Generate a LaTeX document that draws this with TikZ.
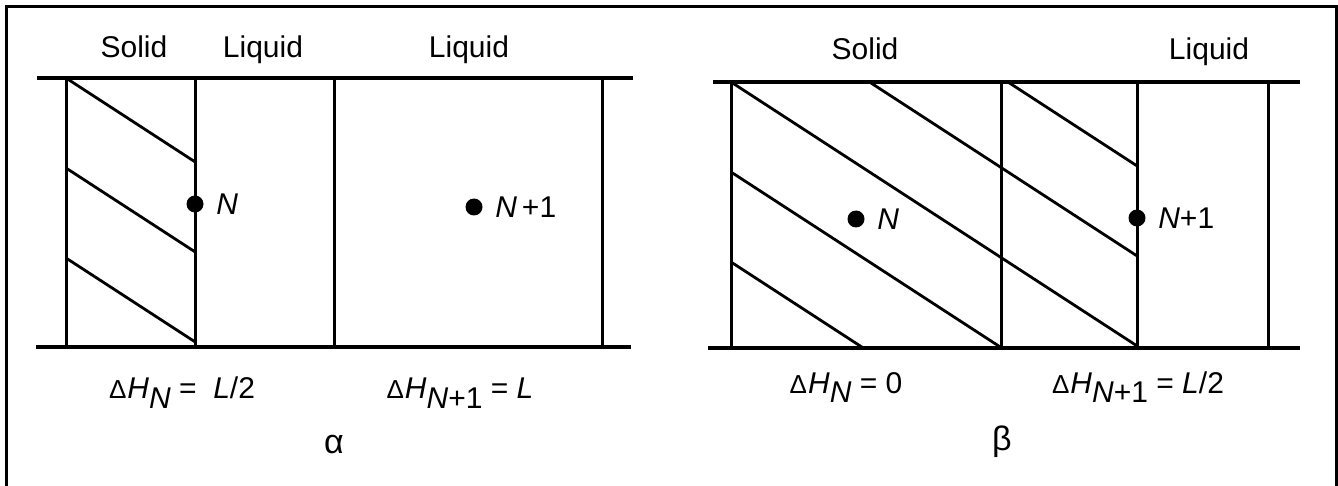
\documentclass[tikz,border=0pt]{standalone}
\usepackage{fontspec}
\setmainfont{Liberation Sans}
\usepackage{tikz}
\usetikzlibrary{positioning}
\newcommand{\dH}[1]{{\fontsize{13}{15}\selectfont Δ}\kern0.5pt\textit{H}\raisebox{-5pt}{#1}}

\begin{document}
\begin{tikzpicture}[x=0.5pt,y=-0.5pt,
  every node/.style={font=\fontsize{15}{18}\selectfont,inner sep=0pt},
  rail/.style={line width=1.9pt},
  wall/.style={line width=1.5pt},
  hatch/.style={line width=1.4pt},
  dot/.style={circle,fill=black,minimum size=8.5pt},
  greek/.style={anchor=base,font=\fontsize{17}{20}\selectfont}]
\useasboundingbox (0,0) rectangle (1338,486);
\draw[line width=1.5pt] (6,490) -- (6,7) -- (1336,7) -- (1336,490);

% alpha
\draw[rail] (37,78) -- (633,78) (36,347) -- (631,347);
\foreach \x in {66,195,334,602} \draw[wall] (\x,78) -- (\x,347);
\begin{scope}
  \clip (66,78) rectangle (195,347);
  \foreach \c in {78,168,258} \draw[hatch] (66,\c) -- ++(300,195);
\end{scope}
\node[anchor=base] (aS) at (134,58) {Solid};
\node[anchor=base] (aL) at (263,58) {Liquid};
\node[anchor=base] (aR) at (469,58) {Liquid};
\node[dot] (aN) at (195,204) {};
\node[right=6pt of aN] (aNl) {\textit{N}};
\node[dot] (aM) at (474,207) {};
\node[right=6pt of aM] (aMl) {\textit{N}\,+1};
\node[anchor=base] (aHN) at (182,398) {\dH{\textit{N}} = \ \textit{L}/2};
\node[anchor=base] (aHM) at (460,398) {\dH{\textit{N}+1} = \textit{L}};
\node[greek] (aT) at (334,453) {α};

% beta
\draw[rail] (713,82) -- (1300,82) (708,348) -- (1300,348);
\foreach \x in {731,1001,1137,1268} \draw[wall] (\x,82) -- (\x,348);
\begin{scope}
  \clip (731,82) rectangle (1137,348);
  \foreach \c in {-98,-8,82,172,262} \draw[hatch] (731,\c) -- ++(600,390);
\end{scope}
\node[anchor=base] (bS) at (865,60) {Solid};
\node[anchor=base] (bL) at (1209,60) {Liquid};
\node[dot] (bN) at (856,219) {};
\node[right=6pt of bN] (bNl) {\textit{N}};
\node[dot] (bM) at (1137,218) {};
\node[right=6pt of bM] (bMl) {\textit{N}+1};
\node[anchor=base] (bHN) at (846,393) {\dH{\textit{N}} = 0};
\node[anchor=base] (bHM) at (1138,393) {\dH{\textit{N}+1} = \textit{L}/2};
\node[greek] (bT) at (1002,450) {β};
\end{tikzpicture}
\end{document}
